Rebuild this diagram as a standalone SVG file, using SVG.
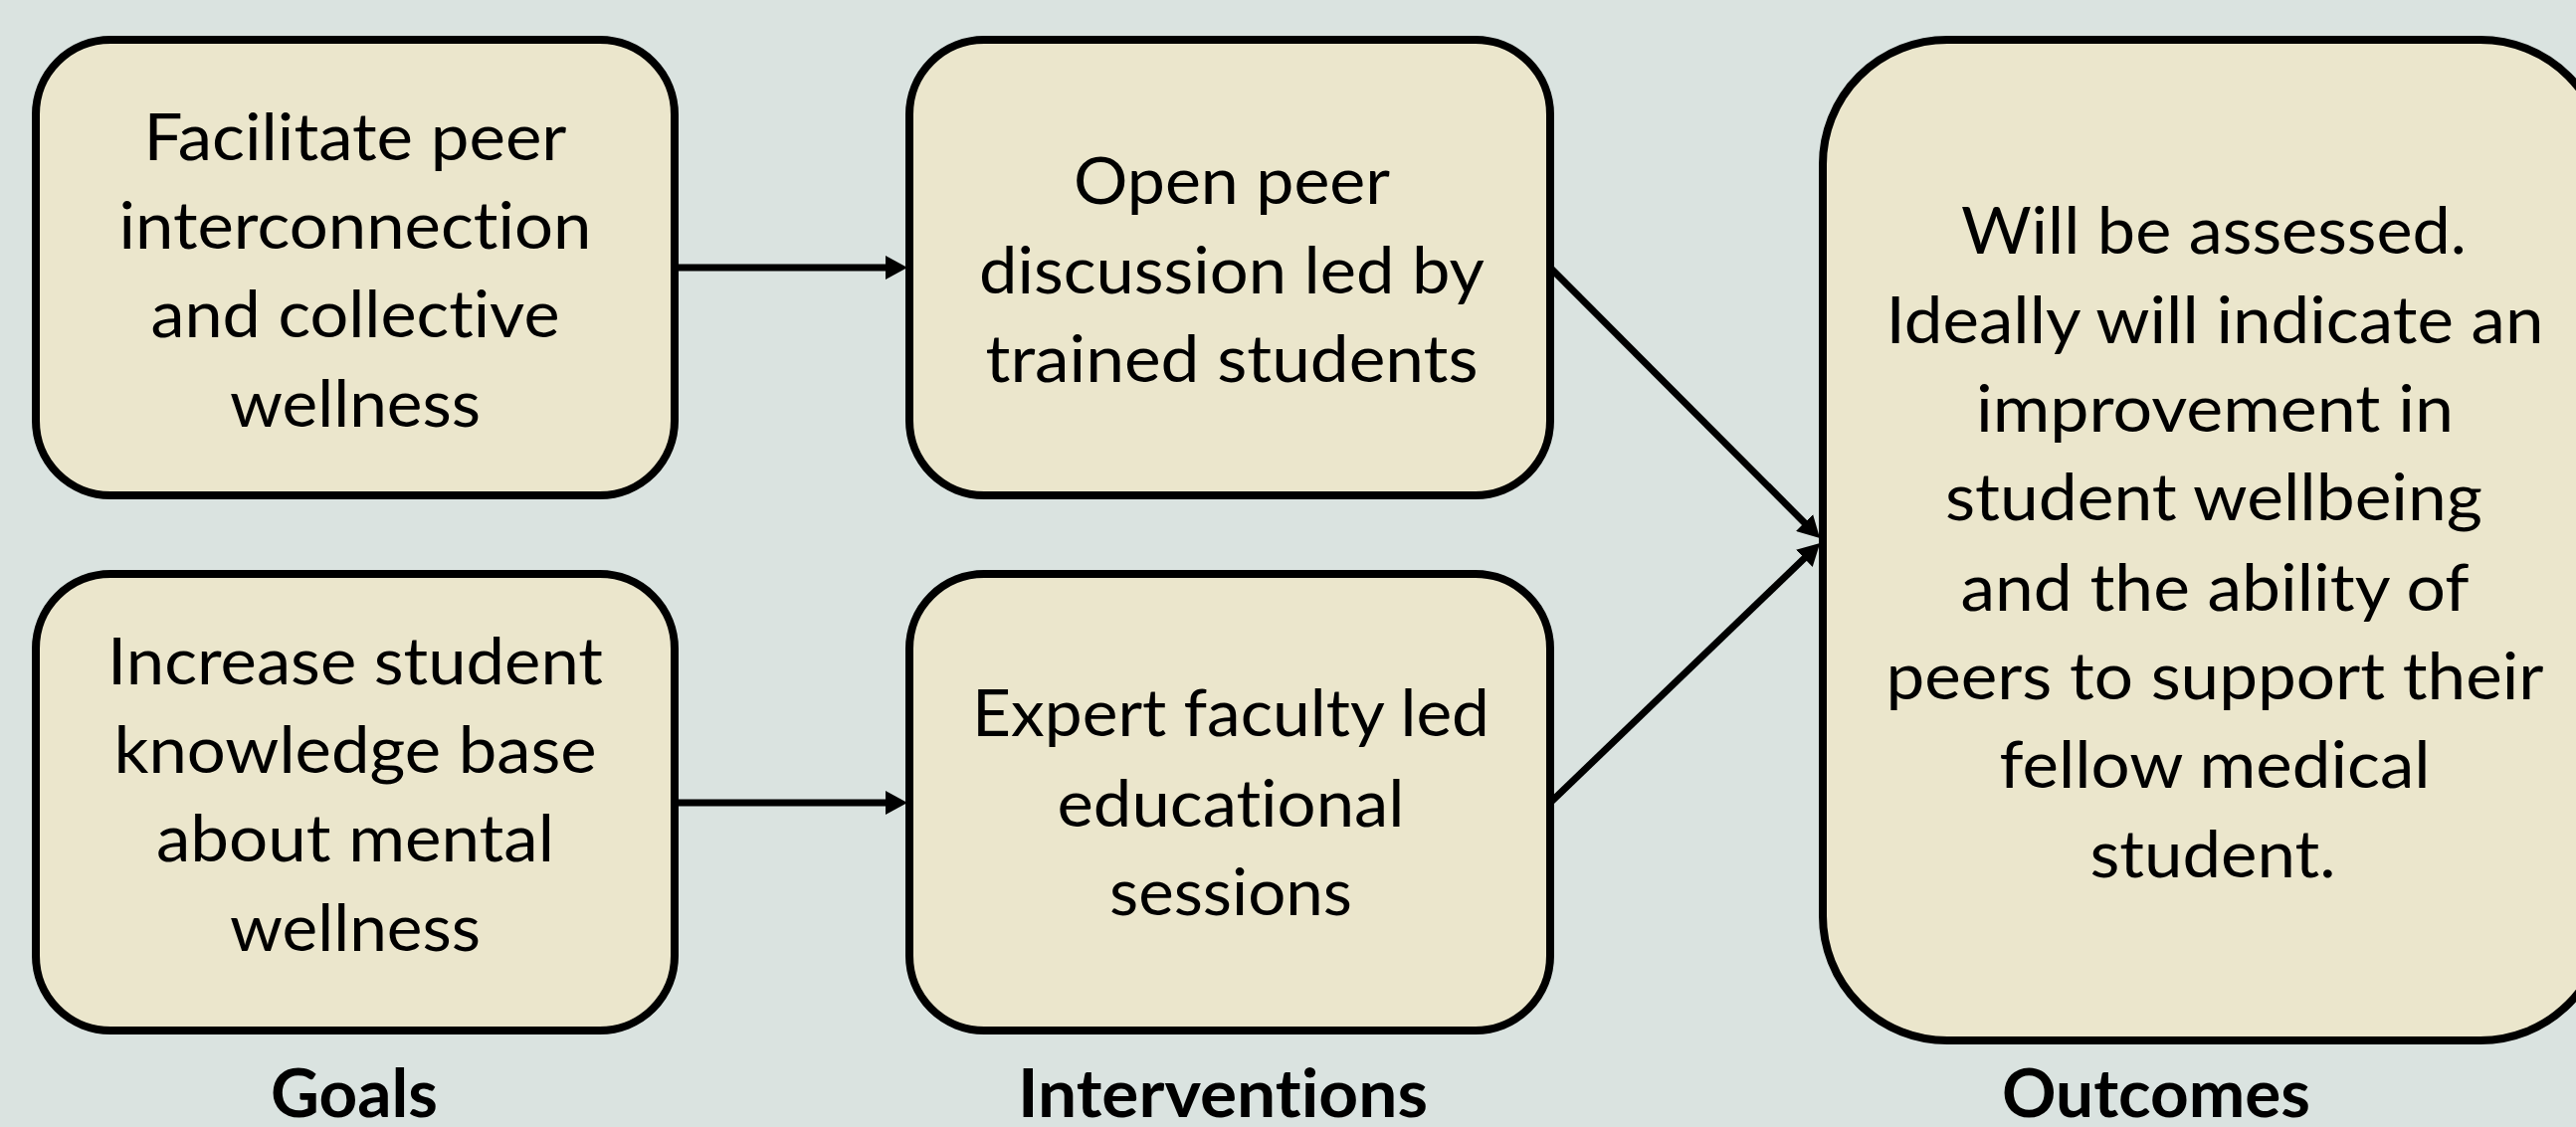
<svg xmlns="http://www.w3.org/2000/svg" width="2589" height="1133" viewBox="0 0 2589 1133">
  <style>
    .box { fill: #EBE6CC; stroke: #000; stroke-width: 8; }
    .txt { font-family: Lato, "Open Sans", "Liberation Sans", sans-serif; font-size: 66px; fill: #000; text-anchor: middle; font-variant-ligatures: none; }
    .lbl { font-family: Lato, "Open Sans", "Liberation Sans", sans-serif; font-size: 67px; font-weight: bold; fill: #000; text-anchor: middle; font-variant-ligatures: none; }
    .link { stroke: #000; stroke-width: 7; fill: none; marker-end: url(#head); }
  </style>
  <defs>
    <marker id="head" markerUnits="userSpaceOnUse" markerWidth="22" markerHeight="24" viewBox="0 0 22 24" refX="12" refY="12" orient="auto">
      <path d="M0,0 L22,12 L0,24 Z" fill="#000"/>
    </marker>
  </defs>

  <rect width="2589" height="1133" fill="#DAE3E0"/>

  <!-- connectors -->
  <g id="connectors">
    <line class="link" x1="680" y1="269" x2="902" y2="269"/>
    <line class="link" x1="680" y1="807" x2="902" y2="807"/>
    <line class="link" x1="1558" y1="269" x2="1822" y2="534"/>
    <line class="link" x1="1558" y1="807" x2="1822" y2="553"/>
  </g>

  <!-- goals column -->
  <g id="goal-interconnection">
    <rect class="box" x="36" y="40" width="642" height="458" rx="75" ry="75"/>
    <text class="txt" x="357" y="161" textLength="425" lengthAdjust="spacingAndGlyphs">Facilitate peer</text>
    <text class="txt" x="357" y="250" textLength="475" lengthAdjust="spacingAndGlyphs">interconnection</text>
    <text class="txt" x="357" y="339" textLength="411" lengthAdjust="spacingAndGlyphs">and collective</text>
    <text class="txt" x="357" y="429" textLength="252" lengthAdjust="spacingAndGlyphs">wellness</text>
  </g>

  <g id="goal-knowledge">
    <rect class="box" x="36" y="577" width="642" height="459" rx="75" ry="75"/>
    <text class="txt" x="357" y="688" textLength="498" lengthAdjust="spacingAndGlyphs">Increase student</text>
    <text class="txt" x="357" y="777" textLength="485" lengthAdjust="spacingAndGlyphs">knowledge base</text>
    <text class="txt" x="357" y="866" textLength="400" lengthAdjust="spacingAndGlyphs">about mental</text>
    <text class="txt" x="357" y="956" textLength="252" lengthAdjust="spacingAndGlyphs">wellness</text>
  </g>

  <!-- interventions column -->
  <g id="intervention-discussion">
    <rect class="box" x="914" y="40" width="644" height="458" rx="75" ry="75"/>
    <text class="txt" x="1238" y="205" textLength="318" lengthAdjust="spacingAndGlyphs">Open peer</text>
    <text class="txt" x="1238" y="295" textLength="508" lengthAdjust="spacingAndGlyphs">discussion led by</text>
    <text class="txt" x="1238" y="384" textLength="495" lengthAdjust="spacingAndGlyphs">trained students</text>
  </g>

  <g id="intervention-sessions">
    <rect class="box" x="914" y="577" width="644" height="459" rx="75" ry="75"/>
    <text class="txt" x="1237" y="740" textLength="520" lengthAdjust="spacingAndGlyphs">Expert faculty led</text>
    <text class="txt" x="1237" y="831" textLength="349" lengthAdjust="spacingAndGlyphs">educational</text>
    <text class="txt" x="1237" y="920" textLength="244" lengthAdjust="spacingAndGlyphs">sessions</text>
  </g>

  <!-- outcomes column -->
  <g id="outcome">
    <rect class="box" x="1832" y="40" width="786" height="1006" rx="125" ry="125"/>
    <text class="txt" x="2225" y="255" textLength="508" lengthAdjust="spacingAndGlyphs">Will be assessed.</text>
    <text class="txt" x="2226" y="345" textLength="661" lengthAdjust="spacingAndGlyphs">Ideally will indicate an</text>
    <text class="txt" x="2226" y="434" textLength="480" lengthAdjust="spacingAndGlyphs">improvement in</text>
    <text class="txt" x="2225" y="523" textLength="540" lengthAdjust="spacingAndGlyphs">student wellbeing</text>
    <text class="txt" x="2226" y="614" textLength="511" lengthAdjust="spacingAndGlyphs">and the ability of</text>
    <text class="txt" x="2226" y="703" textLength="661" lengthAdjust="spacingAndGlyphs">peers to support their</text>
    <text class="txt" x="2226" y="792" textLength="433" lengthAdjust="spacingAndGlyphs">fellow medical</text>
    <text class="txt" x="2224" y="882" textLength="247" lengthAdjust="spacingAndGlyphs">student.</text>
  </g>

  <!-- column headings -->
  <g id="headings">
    <text class="lbl" x="356" y="1123" textLength="168" lengthAdjust="spacingAndGlyphs">Goals</text>
    <text class="lbl" x="1229" y="1123" textLength="412" lengthAdjust="spacingAndGlyphs">Interventions</text>
    <text class="lbl" x="2167" y="1123" textLength="310" lengthAdjust="spacingAndGlyphs">Outcomes</text>
  </g>
</svg>
